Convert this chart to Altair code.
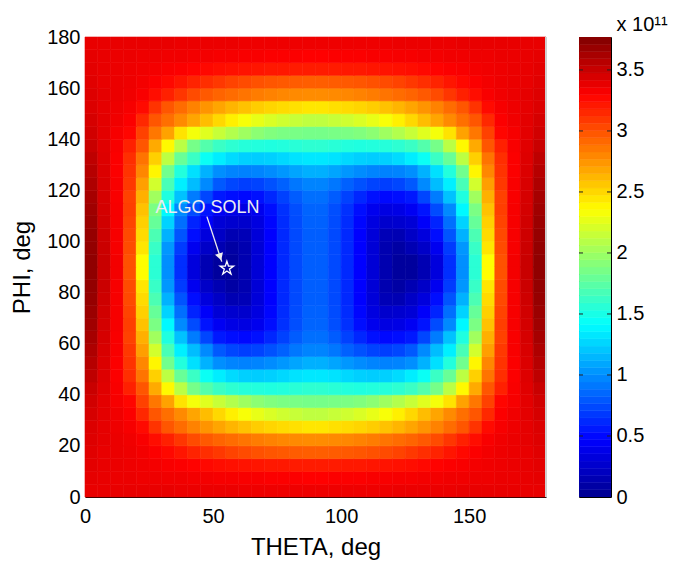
import altair as alt
import pandas as pd

# ---- grid cell centres (deg) ----
theta_centers = [2.5, 7.5, 12.5, 17.5, 22.5, 27.5, 32.5, 37.5, 42.5, 47.5, 52.5, 57.5,
                 62.5, 67.5, 72.5, 77.5, 82.5, 87.5, 92.5, 97.5, 102.5, 107.5, 112.5, 117.5,
                 122.5, 127.5, 132.5, 137.5, 142.5, 147.5, 152.5, 157.5, 162.5, 167.5, 172.5, 177.5]
phi_centers = [2.5, 7.5, 12.5, 17.5, 22.5, 27.5, 32.5, 37.5, 42.5, 47.5, 52.5, 57.5,
               62.5, 67.5, 72.5, 77.5, 82.5, 87.5, 92.5, 97.5, 102.5, 107.5, 112.5, 117.5,
               122.5, 127.5, 132.5, 137.5, 142.5, 147.5, 152.5, 157.5, 162.5, 167.5, 172.5, 177.5]

# ---- cost values (units of 1e11), rows = phi ascending ----
field = [
 [3.38,3.38,3.38,3.38,3.38,3.38,3.38,3.37,3.37,3.37,3.37,3.37,3.36,3.36,3.36,3.36,3.36,3.36,3.36,3.36,3.36,3.36,3.36,3.36,3.37,3.37,3.37,3.37,3.37,3.38,3.38,3.38,3.38,3.38,3.38,3.38],
 [3.39,3.38,3.37,3.37,3.36,3.36,3.35,3.35,3.34,3.34,3.33,3.33,3.32,3.32,3.31,3.31,3.31,3.30,3.30,3.31,3.31,3.31,3.32,3.32,3.33,3.33,3.34,3.34,3.35,3.35,3.36,3.36,3.37,3.37,3.38,3.39],
 [3.40,3.38,3.37,3.36,3.35,3.34,3.32,3.31,3.29,3.27,3.25,3.24,3.23,3.22,3.21,3.21,3.20,3.20,3.20,3.20,3.21,3.21,3.22,3.23,3.24,3.25,3.27,3.29,3.31,3.32,3.34,3.35,3.36,3.37,3.38,3.40],
 [3.41,3.38,3.37,3.36,3.34,3.31,3.27,3.22,3.17,3.13,3.09,3.05,3.02,3.00,2.98,2.97,2.96,2.95,2.95,2.96,2.97,2.98,3.00,3.02,3.05,3.09,3.13,3.17,3.22,3.27,3.31,3.34,3.36,3.37,3.38,3.41],
 [3.42,3.39,3.37,3.35,3.32,3.25,3.18,3.10,3.02,2.97,2.93,2.90,2.87,2.84,2.82,2.80,2.79,2.78,2.78,2.79,2.80,2.82,2.84,2.87,2.90,2.93,2.97,3.02,3.10,3.18,3.25,3.32,3.35,3.37,3.39,3.42],
 [3.43,3.39,3.36,3.33,3.26,3.11,2.98,2.90,2.82,2.75,2.69,2.63,2.58,2.54,2.51,2.49,2.47,2.45,2.45,2.47,2.49,2.51,2.54,2.58,2.63,2.69,2.75,2.82,2.90,2.98,3.11,3.26,3.33,3.36,3.39,3.43],
 [3.45,3.40,3.35,3.31,3.15,2.98,2.89,2.79,2.69,2.60,2.50,2.41,2.33,2.27,2.22,2.18,2.15,2.12,2.12,2.15,2.18,2.22,2.27,2.33,2.41,2.50,2.60,2.69,2.79,2.89,2.98,3.15,3.31,3.35,3.40,3.45],
 [3.47,3.40,3.33,3.28,3.06,2.86,2.70,2.46,2.32,2.24,2.15,2.07,2.00,1.93,1.89,1.87,1.86,1.85,1.85,1.86,1.87,1.89,1.93,2.00,2.07,2.15,2.24,2.32,2.46,2.70,2.86,3.06,3.28,3.33,3.40,3.47],
 [3.50,3.41,3.32,3.18,2.98,2.67,2.38,2.10,1.85,1.72,1.63,1.58,1.55,1.54,1.53,1.54,1.56,1.58,1.58,1.56,1.54,1.53,1.54,1.55,1.58,1.63,1.72,1.85,2.10,2.38,2.67,2.98,3.18,3.32,3.41,3.50],
 [3.54,3.42,3.31,3.13,2.87,2.53,2.11,1.80,1.63,1.45,1.35,1.28,1.24,1.23,1.24,1.27,1.31,1.33,1.33,1.31,1.27,1.24,1.23,1.24,1.28,1.35,1.45,1.63,1.80,2.11,2.53,2.87,3.13,3.31,3.42,3.54],
 [3.57,3.43,3.31,3.11,2.80,2.39,1.83,1.54,1.30,1.13,1.00,0.96,0.95,0.96,0.99,1.03,1.08,1.12,1.12,1.08,1.03,0.99,0.96,0.95,0.96,1.00,1.13,1.30,1.54,1.83,2.39,2.80,3.11,3.31,3.43,3.57],
 [3.60,3.44,3.32,3.09,2.71,2.19,1.68,1.36,1.17,0.98,0.80,0.73,0.70,0.72,0.77,0.83,0.91,0.96,0.96,0.91,0.83,0.77,0.72,0.70,0.73,0.80,0.98,1.17,1.36,1.68,2.19,2.71,3.09,3.32,3.44,3.60],
 [3.63,3.45,3.32,3.06,2.65,2.01,1.53,1.19,0.93,0.73,0.56,0.52,0.50,0.53,0.61,0.71,0.81,0.88,0.88,0.81,0.71,0.61,0.53,0.50,0.52,0.56,0.73,0.93,1.19,1.53,2.01,2.65,3.06,3.32,3.45,3.63],
 [3.65,3.46,3.33,3.07,2.58,1.87,1.39,0.98,0.75,0.54,0.42,0.36,0.35,0.40,0.52,0.65,0.76,0.84,0.84,0.76,0.65,0.52,0.40,0.35,0.36,0.42,0.54,0.75,0.98,1.39,1.87,2.58,3.07,3.33,3.46,3.65],
 [3.67,3.47,3.33,3.05,2.53,1.79,1.25,0.88,0.60,0.45,0.30,0.27,0.26,0.34,0.49,0.63,0.75,0.83,0.83,0.75,0.63,0.49,0.34,0.26,0.27,0.30,0.45,0.60,0.88,1.25,1.79,2.53,3.05,3.33,3.47,3.67],
 [3.69,3.48,3.33,3.03,2.49,1.69,1.13,0.78,0.52,0.33,0.23,0.15,0.17,0.31,0.47,0.62,0.74,0.82,0.82,0.74,0.62,0.47,0.31,0.17,0.15,0.23,0.33,0.52,0.78,1.13,1.69,2.49,3.03,3.33,3.48,3.69],
 [3.70,3.49,3.33,3.02,2.45,1.62,1.03,0.69,0.41,0.24,0.15,0.09,0.14,0.30,0.47,0.62,0.74,0.82,0.82,0.74,0.62,0.47,0.30,0.14,0.09,0.15,0.24,0.41,0.69,1.03,1.62,2.45,3.02,3.33,3.49,3.70],
 [3.71,3.50,3.34,3.00,2.36,1.57,1.00,0.64,0.33,0.15,0.06,0.06,0.14,0.30,0.47,0.62,0.74,0.82,0.82,0.74,0.62,0.47,0.30,0.14,0.06,0.06,0.15,0.33,0.64,1.00,1.57,2.36,3.00,3.34,3.50,3.71],
 [3.71,3.50,3.34,3.00,2.36,1.57,1.00,0.64,0.33,0.15,0.06,0.06,0.14,0.30,0.47,0.62,0.74,0.82,0.82,0.74,0.62,0.47,0.30,0.14,0.06,0.06,0.15,0.33,0.64,1.00,1.57,2.36,3.00,3.34,3.50,3.71],
 [3.70,3.49,3.33,3.02,2.45,1.62,1.03,0.69,0.41,0.24,0.15,0.09,0.14,0.30,0.47,0.62,0.74,0.82,0.82,0.74,0.62,0.47,0.30,0.14,0.09,0.15,0.24,0.41,0.69,1.03,1.62,2.45,3.02,3.33,3.49,3.70],
 [3.69,3.48,3.33,3.03,2.49,1.69,1.13,0.78,0.52,0.33,0.23,0.15,0.17,0.31,0.47,0.62,0.74,0.82,0.82,0.74,0.62,0.47,0.31,0.17,0.15,0.23,0.33,0.52,0.78,1.13,1.69,2.49,3.03,3.33,3.48,3.69],
 [3.67,3.47,3.33,3.05,2.53,1.79,1.25,0.88,0.60,0.45,0.30,0.27,0.26,0.34,0.49,0.63,0.75,0.83,0.83,0.75,0.63,0.49,0.34,0.26,0.27,0.30,0.45,0.60,0.88,1.25,1.79,2.53,3.05,3.33,3.47,3.67],
 [3.65,3.46,3.33,3.07,2.58,1.87,1.39,0.98,0.75,0.54,0.42,0.36,0.35,0.40,0.52,0.65,0.76,0.84,0.84,0.76,0.65,0.52,0.40,0.35,0.36,0.42,0.54,0.75,0.98,1.39,1.87,2.58,3.07,3.33,3.46,3.65],
 [3.63,3.45,3.32,3.06,2.65,2.01,1.53,1.19,0.93,0.73,0.56,0.52,0.50,0.53,0.61,0.71,0.81,0.88,0.88,0.81,0.71,0.61,0.53,0.50,0.52,0.56,0.73,0.93,1.19,1.53,2.01,2.65,3.06,3.32,3.45,3.63],
 [3.60,3.44,3.32,3.09,2.71,2.19,1.68,1.36,1.17,0.98,0.80,0.73,0.70,0.72,0.77,0.83,0.91,0.96,0.96,0.91,0.83,0.77,0.72,0.70,0.73,0.80,0.98,1.17,1.36,1.68,2.19,2.71,3.09,3.32,3.44,3.60],
 [3.57,3.43,3.31,3.11,2.80,2.39,1.83,1.54,1.30,1.13,1.00,0.96,0.95,0.96,0.99,1.03,1.08,1.12,1.12,1.08,1.03,0.99,0.96,0.95,0.96,1.00,1.13,1.30,1.54,1.83,2.39,2.80,3.11,3.31,3.43,3.57],
 [3.54,3.42,3.31,3.13,2.87,2.53,2.11,1.80,1.63,1.45,1.35,1.28,1.24,1.23,1.24,1.27,1.31,1.33,1.33,1.31,1.27,1.24,1.23,1.24,1.28,1.35,1.45,1.63,1.80,2.11,2.53,2.87,3.13,3.31,3.42,3.54],
 [3.50,3.41,3.32,3.18,2.98,2.67,2.38,2.10,1.85,1.72,1.63,1.58,1.55,1.54,1.53,1.54,1.56,1.58,1.58,1.56,1.54,1.53,1.54,1.55,1.58,1.63,1.72,1.85,2.10,2.38,2.67,2.98,3.18,3.32,3.41,3.50],
 [3.47,3.40,3.33,3.28,3.06,2.86,2.70,2.46,2.32,2.24,2.15,2.07,2.00,1.93,1.89,1.87,1.86,1.85,1.85,1.86,1.87,1.89,1.93,2.00,2.07,2.15,2.24,2.32,2.46,2.70,2.86,3.06,3.28,3.33,3.40,3.47],
 [3.45,3.40,3.35,3.31,3.15,2.98,2.89,2.79,2.69,2.60,2.50,2.41,2.33,2.27,2.22,2.18,2.15,2.12,2.12,2.15,2.18,2.22,2.27,2.33,2.41,2.50,2.60,2.69,2.79,2.89,2.98,3.15,3.31,3.35,3.40,3.45],
 [3.43,3.39,3.36,3.33,3.26,3.11,2.98,2.90,2.82,2.75,2.69,2.63,2.58,2.54,2.51,2.49,2.47,2.45,2.45,2.47,2.49,2.51,2.54,2.58,2.63,2.69,2.75,2.82,2.90,2.98,3.11,3.26,3.33,3.36,3.39,3.43],
 [3.42,3.39,3.37,3.35,3.32,3.25,3.18,3.10,3.02,2.97,2.93,2.90,2.87,2.84,2.82,2.80,2.79,2.78,2.78,2.79,2.80,2.82,2.84,2.87,2.90,2.93,2.97,3.02,3.10,3.18,3.25,3.32,3.35,3.37,3.39,3.42],
 [3.41,3.38,3.37,3.36,3.34,3.31,3.27,3.22,3.17,3.13,3.09,3.05,3.02,3.00,2.98,2.97,2.96,2.95,2.95,2.96,2.97,2.98,3.00,3.02,3.05,3.09,3.13,3.17,3.22,3.27,3.31,3.34,3.36,3.37,3.38,3.41],
 [3.40,3.38,3.37,3.36,3.35,3.34,3.32,3.31,3.29,3.27,3.25,3.24,3.23,3.22,3.21,3.21,3.20,3.20,3.20,3.20,3.21,3.21,3.22,3.23,3.24,3.25,3.27,3.29,3.31,3.32,3.34,3.35,3.36,3.37,3.38,3.40],
 [3.39,3.38,3.37,3.37,3.36,3.36,3.35,3.35,3.34,3.34,3.33,3.33,3.32,3.32,3.31,3.31,3.31,3.30,3.30,3.31,3.31,3.31,3.32,3.32,3.33,3.33,3.34,3.34,3.35,3.35,3.36,3.36,3.37,3.37,3.38,3.39],
 [3.38,3.38,3.38,3.38,3.38,3.38,3.38,3.37,3.37,3.37,3.37,3.37,3.36,3.36,3.36,3.36,3.36,3.36,3.36,3.36,3.36,3.36,3.36,3.36,3.37,3.37,3.37,3.37,3.37,3.38,3.38,3.38,3.38,3.38,3.38,3.38],
]

x_ticks = [0, 50, 100, 150]
y_ticks = [0, 20, 40, 60, 80, 100, 120, 140, 160, 180]
cbar_ticks = [0, 0.5, 1, 1.5, 2, 2.5, 3, 3.5]
cbar_inner_ticks = [0.5, 1, 1.5, 2, 2.5, 3, 3.5]
cbar_max = 3.77
jet_stops = [0, 0.4713, 1.4138, 2.3563, 3.2988, 3.77]
jet_colors = ["#00008f", "#0000ff", "#00ffff", "#ffff00", "#ff0000", "#800000"]

# annotation (data coordinates, deg)
star_theta, star_phi = [55.4], [89.5]
label_theta, label_phi, label_text = [47.8], [112.9], ["ALGO SOLN"]
arrow_theta, arrow_phi = [47.6, 53.4], [109.7, 92.1]
head_theta, head_phi = [52.75], [93.95]

FONT = "Liberation Sans"
STAR = ("M0,-1L0.225,-0.309L0.951,-0.309L0.363,0.118L0.588,0.809L0,0.382"
        "L-0.588,0.809L-0.363,0.118L-0.951,-0.309L-0.225,-0.309Z")

half_t = (theta_centers[1] - theta_centers[0]) / 2
half_p = (phi_centers[1] - phi_centers[0]) / 2
recs = []
for i, ph in enumerate(phi_centers):
    for j, th in enumerate(theta_centers):
        recs.append({"theta": th - half_t, "theta2": th + half_t,
                     "phi": ph - half_p, "phi2": ph + half_p, "v": field[i][j]})
df = pd.DataFrame(recs)

cscale = alt.Scale(domain=jet_stops, range=jet_colors, clamp=True, interpolate="rgb")
xscale = alt.Scale(domain=[0, 180], nice=False, zero=False)
yscale = alt.Scale(domain=[0, 180], nice=False, zero=False)

xaxis = alt.Axis(values=x_ticks, title="THETA, deg", labelFontSize=20, titleFontSize=24,
                 titleFontWeight="normal", labelFlush=False, ticks=False, tickSize=0,
                 labelPadding=9, titlePadding=9, grid=False, domain=True,
                 domainColor="#000000", domainWidth=1, labelColor="#000000", titleColor="#000000")
yaxis = alt.Axis(values=y_ticks, title="PHI, deg", labelFontSize=20, titleFontSize=24,
                 titleFontWeight="normal", labelFlush=False, ticks=False, tickSize=0,
                 labelPadding=5, titlePadding=12, grid=False, domain=False,
                 labelColor="#000000", titleColor="#000000")

heat = alt.Chart(df).mark_rect(strokeWidth=0.6).encode(
    x=alt.X("theta:Q", scale=xscale, axis=xaxis),
    x2="theta2:Q",
    y=alt.Y("phi:Q", scale=yscale, axis=yaxis),
    y2="phi2:Q",
    color=alt.Color("v:Q", scale=cscale, legend=None),
    stroke=alt.Stroke("v:Q", scale=cscale, legend=None),
)

edge = alt.Chart(pd.DataFrame({"theta": [180]})).mark_rule(
    color="#cfcfcf", strokeWidth=2).encode(x="theta:Q")

arrow = alt.Chart(pd.DataFrame({"theta": arrow_theta, "phi": arrow_phi, "o": [0, 1]})).mark_line(
    color="#eeeeee", strokeWidth=1.3).encode(x="theta:Q", y="phi:Q", order="o:Q")

head = alt.Chart(pd.DataFrame({"theta": head_theta, "phi": head_phi})).mark_point(
    shape="triangle-down", filled=True, color="#eeeeee", size=70, angle=342, opacity=1
).encode(x="theta:Q", y="phi:Q")

star = alt.Chart(pd.DataFrame({"theta": star_theta, "phi": star_phi})).mark_point(
    shape=STAR, filled=False, stroke="#ffffff", strokeWidth=1.3, size=200, opacity=1
).encode(x="theta:Q", y="phi:Q")

label = alt.Chart(pd.DataFrame({"theta": label_theta, "phi": label_phi, "t": label_text})).mark_text(
    font=FONT, fontSize=18, color="#ececf2", align="center", baseline="middle"
).encode(x="theta:Q", y="phi:Q", text="t:N")

main = alt.layer(heat, edge, arrow, head, star, label).properties(width=461, height=460)

# ---- colour bar ----
step = cbar_max / 64
cbar_rects = alt.Chart(alt.sequence(0, cbar_max, step, as_="v")).transform_calculate(
    v2=f"datum.v + {step}", vc=f"datum.v + {step / 2}"
).mark_rect(strokeWidth=0.5, clip=True).encode(
    y=alt.Y("v:Q", scale=alt.Scale(domain=[0, cbar_max], nice=False, zero=False),
            axis=alt.Axis(orient="right", values=cbar_ticks, format="~g", labelFontSize=20,
                          labelFlush=False, ticks=False, tickSize=0, domain=False, grid=False,
                          labelPadding=5, labelColor="#000000",
                          title="x 10¹¹", titleFontSize=20, titleFontWeight="normal",
                          titleAngle=0, titleAlign="left", titleBaseline="alphabetic",
                          titleX=5, titleY=-7, titleColor="#000000")),
    y2="v2:Q",
    color=alt.Color("vc:Q", scale=cscale, legend=None),
    stroke=alt.Stroke("vc:Q", scale=cscale, legend=None),
)
tdf = pd.DataFrame({"v": cbar_inner_ticks})
tick_l = alt.Chart(tdf).mark_rule(color="#222222", strokeWidth=1).encode(
    y="v:Q", x=alt.value(0), x2=alt.value(4))
tick_r = alt.Chart(tdf).mark_rule(color="#222222", strokeWidth=1).encode(
    y="v:Q", x=alt.value(28), x2=alt.value(32))

cbar = alt.layer(cbar_rects, tick_l, tick_r).properties(
    width=32, height=460, view=alt.ViewBackground(stroke="#000000", strokeWidth=1))

chart = alt.hconcat(main, cbar, spacing=33, bounds="flush").properties(
    padding={"left": 10, "top": 13, "right": 5, "bottom": 5}
).configure(font=FONT).configure_view(strokeWidth=0)

chart.save("out.html", embed_options={"renderer": "svg", "actions": False})
